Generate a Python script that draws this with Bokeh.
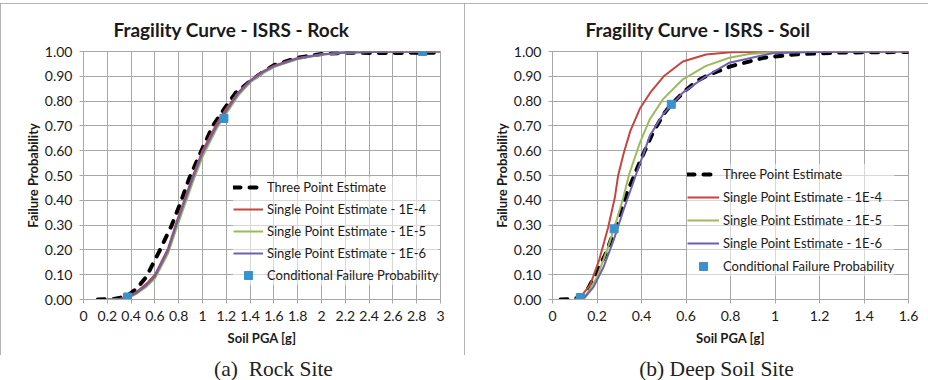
from bokeh.plotting import figure
from bokeh.models import (Range1d, FixedTicker, NumeralTickFormatter, Legend,
                          LegendItem, Spacer, ColumnDataSource)
from bokeh.layouts import row, column
from bokeh.embed import file_html
from bokeh.resources import INLINE
from bokeh.core.properties import value

# ---------------- data: Rock site ----------------
rock_three_x = [0.12, 0.25, 0.36, 0.45, 0.53, 0.64, 0.74, 0.82, 0.89, 1.0, 1.09, 1.18,
                1.28, 1.4, 1.48, 1.6, 1.8, 2.0, 2.2, 2.5, 3.0]
rock_three_y = [0.0, 0.002, 0.012, 0.045, 0.093, 0.197, 0.298, 0.396, 0.49, 0.61, 0.703,
                0.767, 0.834, 0.88, 0.908, 0.945, 0.975, 0.99, 0.995, 0.994, 0.995]
rock_single_x = [0.2, 0.3, 0.37, 0.45, 0.53, 0.6, 0.71, 0.78, 0.85, 0.92, 1.0, 1.12, 1.2,
                 1.3, 1.4, 1.5, 1.6, 1.8, 2.0, 2.2, 2.5, 3.0]
rock_1e4_y = [0.0, 0.002, 0.01, 0.032, 0.064, 0.10, 0.205, 0.31, 0.405, 0.50, 0.60, 0.71,
              0.77, 0.835, 0.883, 0.918, 0.943, 0.974, 0.989, 0.996, 0.999, 1.0]
rock_1e5_y = [0.0, 0.001, 0.006, 0.024, 0.052, 0.085, 0.185, 0.285, 0.38, 0.475, 0.575,
              0.69, 0.75, 0.822, 0.875, 0.91, 0.937, 0.97, 0.987, 0.995, 0.999, 1.0]
rock_1e6_y = [0.0, 0.001, 0.008, 0.028, 0.058, 0.093, 0.197, 0.30, 0.396, 0.49, 0.59, 0.70,
              0.76, 0.83, 0.88, 0.915, 0.94, 0.972, 0.988, 0.996, 0.999, 1.0]
rock_cond_x = [0.37, 1.18, 2.85]
rock_cond_y = [0.01, 0.73, 1.00]

# ---------------- data: Deep soil site ----------------
soil_three_x = [0.036, 0.08, 0.125, 0.16, 0.184, 0.237, 0.281, 0.333, 0.37, 0.40, 0.452,
                0.5, 0.534, 0.6, 0.65, 0.7, 0.8, 0.95, 1.1, 1.3, 1.6]
soil_three_y = [0.0, 0.001, 0.008, 0.045, 0.085, 0.18, 0.285, 0.425, 0.506, 0.57, 0.675,
                0.748, 0.787, 0.845, 0.881, 0.905, 0.94, 0.975, 0.989, 0.996, 0.998]
soil_1e4_x = [0.10, 0.13, 0.17, 0.21, 0.25, 0.28, 0.295, 0.32, 0.35, 0.393, 0.44, 0.50,
              0.586, 0.69, 0.8, 1.0, 1.3, 1.6]
soil_1e4_y = [0.0, 0.015, 0.06, 0.16, 0.29, 0.41, 0.50, 0.59, 0.68, 0.77, 0.835, 0.90,
              0.96, 0.988, 0.997, 1.0, 1.0, 1.0]
soil_1e5_x = [0.12, 0.155, 0.2, 0.244, 0.281, 0.318, 0.345, 0.393, 0.4375, 0.497, 0.586,
              0.69, 0.795, 0.884, 1.0, 1.3, 1.6]
soil_1e5_y = [0.0, 0.023, 0.09, 0.197, 0.298, 0.41, 0.506, 0.633, 0.727, 0.808, 0.888,
              0.942, 0.975, 0.99, 0.997, 1.0, 1.0]
soil_1e6_x = [0.12, 0.14, 0.184, 0.229, 0.274, 0.318, 0.37, 0.4375, 0.497, 0.586, 0.69,
              0.795, 0.988, 1.17, 1.6]
soil_1e6_y = [0.0, 0.003, 0.05, 0.13, 0.237, 0.358, 0.49, 0.66, 0.747, 0.834, 0.90,
              0.955, 0.993, 0.998, 1.0]
soil_cond_x = [0.125, 0.277, 0.534]
soil_cond_y = [0.008, 0.285, 0.787]

rock_xticks = [0, 0.2, 0.4, 0.6, 0.8, 1, 1.2, 1.4, 1.6, 1.8, 2, 2.2, 2.4, 2.6, 2.8, 3]
soil_xticks = [0, 0.2, 0.4, 0.6, 0.8, 1, 1.2, 1.4, 1.6]
yticks = [0, 0.1, 0.2, 0.3, 0.4, 0.5, 0.6, 0.7, 0.8, 0.9, 1.0]

titles = ["Fragility Curve - ISRS - Rock", "Fragility Curve - ISRS - Soil"]
captions = ["(a)\u00a0 Rock Site", "(b) Deep Soil Site"]
series_names = ["Three Point Estimate", "Single Point Estimate - 1E-4",
                "Single Point Estimate - 1E-5", "Single Point Estimate - 1E-6",
                "Conditional Failure Probability"]

RED = "#c8453f"
GREEN = "#9bbb59"
PURPLE = "#6f5fb0"
BLUE = "#3a92cc"
GRID = "#a8a8a8"
BORDER = "#9a9a9a"
FONT = "Lato"
PANEL_H = 352          # panel box (with grey outline), starts 3 px below the top
CAP_H = 25


def panel(xmax, xticks, three, s4, s5, s6, cond, title, left_b, right_b,
          title_off, leg_loc, leg_spacing, glyph_w):
    p = figure(width=464, height=PANEL_H, output_backend="svg", toolbar_location=None,
               x_range=Range1d(0, xmax), y_range=Range1d(0, 1.0),
               min_border_left=left_b, min_border_right=right_b,
               min_border_top=48, min_border_bottom=56,
               styles={"outline": "1px solid " + BORDER, "outline-offset": "-1px"})
    p.outline_line_color = GRID
    p.background_fill_color = "white"
    p.border_fill_color = "white"

    p.title.text = title
    p.title.text_font = FONT
    p.title.text_font_style = "bold"
    p.title.text_font_size = "19px"
    p.title.text_color = "#1a1a1a"
    p.title.align = "left"
    p.title.offset = title_off
    p.title.standoff = 22

    p.xaxis.ticker = FixedTicker(ticks=xticks)
    p.yaxis.ticker = FixedTicker(ticks=yticks)
    p.xaxis.formatter = NumeralTickFormatter(format="0.[0]")
    p.yaxis.formatter = NumeralTickFormatter(format="0.00")
    for ax in (p.xaxis[0], p.yaxis[0]):
        ax.axis_line_color = GRID
        ax.major_tick_line_color = GRID
        ax.major_tick_out = 4
        ax.major_tick_in = 0
        ax.minor_tick_line_color = None
        ax.major_label_text_font = FONT
        ax.major_label_text_font_size = "14px"
        ax.major_label_text_color = "#1a1a1a"
        ax.major_label_standoff = 7
        ax.axis_label_text_font = FONT
        ax.axis_label_text_font_style = "bold"
        ax.axis_label_text_font_size = "13px"
        ax.axis_label_text_color = "#1a1a1a"
    p.xaxis.axis_label = "Soil PGA [g]"
    p.yaxis.axis_label = "Failure Probability"
    p.xaxis.axis_label_standoff = 6
    p.yaxis.axis_label_standoff = 1
    p.xgrid.grid_line_color = GRID
    p.ygrid.grid_line_color = GRID

    r0 = p.line(three[0], three[1], line_color="black", line_width=4,
                line_dash="7 9", line_cap="round")
    r1 = p.line(s4[0], s4[1], line_color=RED, line_width=2)
    r2 = p.line(s5[0], s5[1], line_color=GREEN, line_width=2)
    r3 = p.line(s6[0], s6[1], line_color=PURPLE, line_width=2)
    r4 = p.scatter(cond[0], cond[1], marker="square", size=8, fill_color=BLUE,
                   line_color=BLUE)

    items = [LegendItem(label=n, renderers=[r]) for n, r in
             zip(series_names, [r0, r1, r2, r3, r4])]
    leg = Legend(items=items, location=leg_loc, margin=0, padding=0,
                 spacing=leg_spacing, label_height=20, glyph_height=20,
                 glyph_width=glyph_w, label_standoff=4,
                 label_text_font=FONT, label_text_font_size="13px",
                 label_text_color="#1a1a1a",
                 border_line_alpha=0, background_fill_alpha=0.55)
    p.add_layout(leg, "center")
    return p


def caption_fig(text, cx):
    c = figure(width=464, height=CAP_H, output_backend="svg", toolbar_location=None,
               x_range=Range1d(0, 464), y_range=Range1d(CAP_H, 0),
               min_border=0, x_axis_type=None, y_axis_type=None)
    c.outline_line_color = None
    c.grid.visible = False
    src = ColumnDataSource(dict(x=[cx], y=[13], t=[text]))
    c.text(x="x", y="y", text="t", source=src, text_font=value("Liberation Serif"),
           text_font_size="21.5px", text_align="center", text_baseline="middle",
           text_color="#222222")
    return c


p1 = panel(3, rock_xticks, (rock_three_x, rock_three_y),
           (rock_single_x, rock_1e4_y), (rock_single_x, rock_1e5_y),
           (rock_single_x, rock_1e6_y), (rock_cond_x, rock_cond_y),
           titles[0], 83, 24, 30, (150, 14), 2, 30)
p2 = panel(1.6, soil_xticks, (soil_three_x, soil_three_y),
           (soil_1e4_x, soil_1e4_y), (soil_1e5_x, soil_1e5_y),
           (soil_1e6_x, soil_1e6_y), (soil_cond_x, soil_cond_y),
           titles[1], 88, 20, 33, (135, 23), 3, 32)

c1 = caption_fig(captions[0], 273)
c2 = caption_fig(captions[1], 252)

layout = column(Spacer(width=928, height=3), row(p1, p2), row(c1, c2))
open("out.html", "w").write(file_html(layout, INLINE))
